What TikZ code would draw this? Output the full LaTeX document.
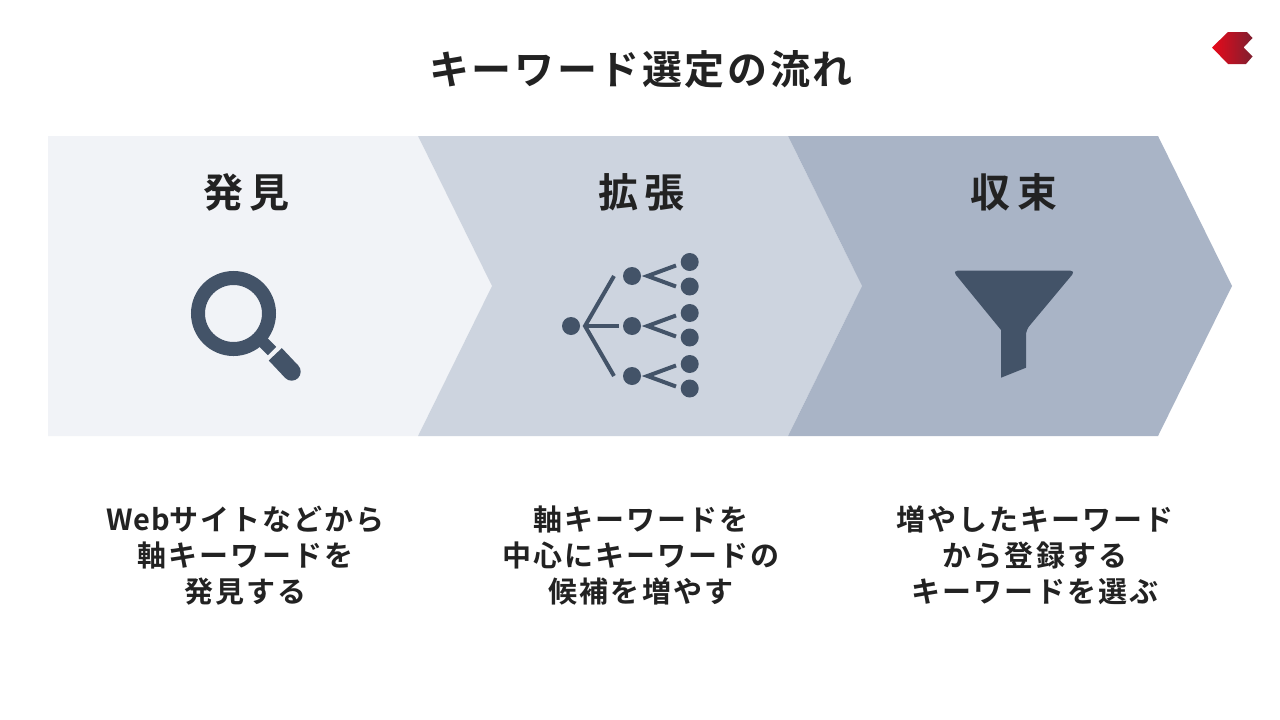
\documentclass[tikz,border=0pt]{standalone}
\usepackage{fontspec}
\setmainfont{Noto Sans CJK JP Bold}
\definecolor{ink}{HTML}{222222}
\definecolor{icon}{HTML}{435368}
\definecolor{cA}{HTML}{F1F3F7}
\definecolor{cB}{HTML}{CDD4DF}
\definecolor{cC}{HTML}{A9B4C6}
\definecolor{logoL}{HTML}{E8091A}
\definecolor{logoR}{HTML}{7F1F30}
\newfontfamily\titlef[LetterSpace=6.5]{Noto Sans CJK JP Bold}
\newfontfamily\headf[LetterSpace=16]{Noto Sans CJK JP Bold}
\newfontfamily\bodyf[LetterSpace=7]{Noto Sans CJK JP Bold}
\newfontfamily\latinf[LetterSpace=3]{Noto Sans CJK JP Bold}
\tikzset{
  titletext/.style={text=ink,font=\titlef\fontsize{40}{46}\selectfont,inner sep=0pt,anchor=center},
  headtext/.style={text=ink,font=\headf\fontsize{40}{46}\selectfont,inner sep=0pt,anchor=center},
  bodytext/.style={text=ink,font=\bodyf\fontsize{29}{36}\selectfont,inner sep=0pt,align=center,anchor=center},
  dot/.style={circle,fill=icon,draw=none,minimum size=18pt,inner sep=0pt},
  twig/.style={draw=icon,line width=4pt},
}
\begin{document}
\begin{tikzpicture}[x=1pt,y=-1pt]
\useasboundingbox (0,0) rectangle (1280,720);
\fill[white] (0,0) rectangle (1280,720);
% chevrons
\fill[cA] (48,136) -- (418,136) -- (492,286) -- (418,436) -- (48,436) -- cycle;
\fill[cB] (418,136) -- (788,136) -- (862,286) -- (788,436) -- (418,436) -- (492,286) -- cycle;
\fill[cC] (788,136) -- (1158,136) -- (1232,286) -- (1158,436) -- (788,436) -- (862,286) -- cycle;
% title and texts
\node[titletext] (title) at (641,69) {キーワード選定の流れ};
\node[headtext] (h1) at (246.5,192) {発見};
\node[headtext] (h2) at (641.5,192) {拡張};
\node[headtext] (h3) at (1014,192) {収束};
\node[bodytext] (b1) at (245.5,555.5) {{\latinf\fontsize{29}{36}\selectfont Web}サイトなどから\\軸キーワードを\\発見する};
\node[bodytext] (b2) at (641,555.5) {軸キーワードを\\中心にキーワードの\\候補を増やす};
\node[bodytext] (b3) at (1035,555.5) {増やしたキーワード\\から登録する\\キーワードを選ぶ};
% logo
\shade[left color=logoL,right color=logoR] (1212,47.5) -- (1228,32) -- (1247,32) -- (1252.5,38) -- (1243.5,47.5) -- (1252.5,56.5) -- (1246,64) -- (1228,64) -- cycle;
% magnifier
\draw[icon,line width=14pt] (233.5,313.5) circle (35.5);
\draw[icon,line width=12pt] (261,340) -- (272,351);
\draw[icon,line width=18pt] (275.3,354.3) -- (291.7,371.7);
\fill[icon] (291.7,371.7) circle (9);
% tree
\node[dot] (r) at (571,326) {};
\node[dot] (m1) at (632,276) {};
\node[dot] (m2) at (632,326) {};
\node[dot] (m3) at (632,376) {};
\node[dot] (l1) at (689.7,262) {};
\node[dot] (l2) at (689.7,286.5) {};
\node[dot] (l3) at (689.7,313) {};
\node[dot] (l4) at (689.7,337.5) {};
\node[dot] (l5) at (689.7,364) {};
\node[dot] (l6) at (689.7,388.5) {};
\coordinate (fork) at (585,326);
\draw[twig] (614,276) -- (fork) -- (614,376);
\draw[twig] (fork) -- (618.5,326);
\draw[twig] (676,265.5) -- (647.5,276) -- (676,286.5);
\draw[twig] (676,315.5) -- (647.5,326) -- (676,336.5);
\draw[twig] (676,365.5) -- (647.5,376) -- (676,386.5);
% funnel
\fill[icon] (1014,270.7) [rounded corners=5pt] -- (1075.5,270.7) -- (1026,330) [sharp corners] -- (1026,367.7) -- (1001,377.7) -- (1001,330) [rounded corners=5pt] -- (952.5,270.7) -- cycle;
\end{tikzpicture}
\end{document}
